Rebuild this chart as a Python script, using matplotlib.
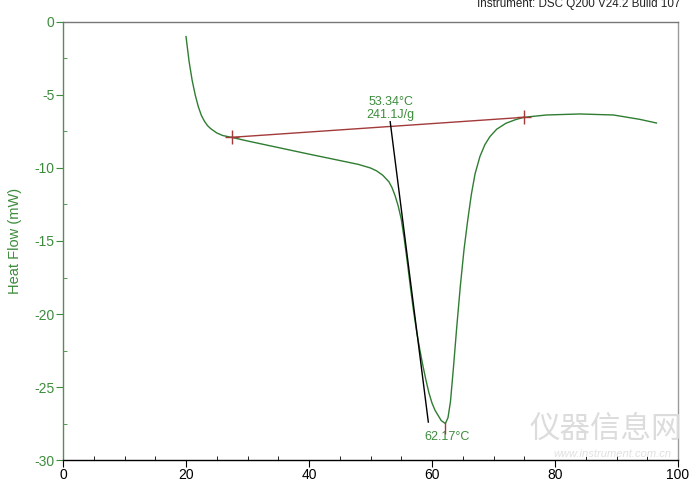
import matplotlib.pyplot as plt
from matplotlib.ticker import MultipleLocator

plt.rcParams['font.family'] = ['Liberation Sans', 'DejaVu Sans']
plt.rcParams['axes.unicode_minus'] = False

# ------------------------------
# Dados lidos do termograma DSC
# ------------------------------
temp_c = [20.0, 20.5, 21.0, 21.5, 22.0, 22.5, 23.0, 23.5, 24.0, 25.0, 26.0, 27.4,
          30.0, 35.0, 40.0, 44.0, 48.0, 50.0, 51.0, 52.0, 53.0, 53.5, 54.0, 54.5,
          55.0, 55.5, 56.0, 56.5, 57.0, 57.5, 58.0, 58.5, 59.0, 59.5, 60.0, 60.5,
          61.0, 61.5, 62.17, 62.6, 63.0, 63.5, 64.0, 64.6, 65.2, 65.8, 66.4, 67.0,
          67.8, 68.6, 69.4, 70.5, 72.0, 73.5, 74.9, 78.6, 84.0, 89.5, 93.8, 96.5]
heat_flow = [-1.0, -2.7, -4.0, -5.0, -5.8, -6.4, -6.8, -7.1, -7.3, -7.6, -7.78, -7.9,
             -8.15, -8.6, -9.05, -9.4, -9.75, -10.0, -10.2, -10.5, -10.95, -11.35, -11.9, -12.6,
             -13.5, -14.9, -16.5, -18.2, -19.8, -21.2, -22.4, -23.5, -24.5, -25.4, -26.1, -26.6,
             -26.95, -27.3, -27.5, -27.1, -26.0, -23.6, -21.0, -18.1, -15.6, -13.6, -11.8, -10.4,
             -9.2, -8.4, -7.86, -7.35, -6.94, -6.7, -6.53, -6.37, -6.3, -6.37, -6.67, -6.92]

baseline_x = [27.4, 74.9]
baseline_y = [-7.9, -6.53]

tangent_x = [53.2, 59.4]
tangent_y = [-6.83, -27.4]

peak_x = 62.17
peak_y = -27.5

onset_label = "53.34°C\n241.1J/g"
peak_label = "62.17°C"

green = "#2f7d32"
text_green = "#3c8c3c"
red = "#a33a3a"

# ------------------------------
# Figura
# ------------------------------
fig = plt.figure(figsize=(7.0, 4.82), dpi=100)
ax = fig.add_axes([0.09, 0.0456, 0.8786, 0.9088])

ax.plot(temp_c, heat_flow, color=green, lw=1.0, zorder=3)
ax.plot(baseline_x, baseline_y, color=red, lw=1.0, zorder=4)
ax.plot(baseline_x, baseline_y, ls="none", marker="+", ms=10, mew=1.0, color=red, zorder=5)
ax.plot(tangent_x, tangent_y, color="black", lw=1.0, zorder=4)
ax.plot([peak_x], [peak_y - 0.3], ls="none", marker="|", ms=8, mew=1.0, color=red, zorder=5)

ax.text(53.3, -6.75, onset_label, color=text_green, fontsize=9, ha="center",
        va="bottom", linespacing=1.05)
ax.text(62.5, -28.4, peak_label, color=text_green, fontsize=9, ha="center", va="center")

ax.set_xlim(0, 100)
ax.set_ylim(-30, 0)
ax.xaxis.set_major_locator(MultipleLocator(20))
ax.xaxis.set_minor_locator(MultipleLocator(5))
ax.yaxis.set_major_locator(MultipleLocator(5))
ax.yaxis.set_minor_locator(MultipleLocator(2.5))

ax.tick_params(axis="x", which="major", direction="out", length=5, labelsize=10,
               colors="black", pad=1)
ax.tick_params(axis="x", which="minor", direction="in", length=3, colors="black")
ax.tick_params(axis="y", which="major", direction="out", length=5, labelsize=10,
               colors=text_green, pad=1)
ax.tick_params(axis="y", which="minor", direction="in", length=3, colors=text_green)

ax.spines["left"].set_color("#5a8a5a")
ax.spines["bottom"].set_color("black")
ax.spines["top"].set_color("#777777")
ax.spines["right"].set_color("#999999")
for s in ax.spines.values():
    s.set_linewidth(1.0)

ax.set_ylabel("Heat Flow (mW)", color=text_green, fontsize=10.5)
ax.yaxis.set_label_coords(-0.066, 0.5)

# cabeçalho do instrumento (cortado no topo)
fig.text(0.972, 0.992, "Instrument: DSC Q200 V24.2 Build 107", ha="right", va="center",
         fontsize=8.4, color="#222222")

# marca d'água
fig.text(0.865, 0.11, "仪器信息网", ha="center", va="center", fontsize=22,
         color="#dcdcdc", family=["Noto Sans CJK SC", "DejaVu Sans"], zorder=0)
fig.text(0.875, 0.058, "www.instrument.com.cn", ha="center", va="center", fontsize=8,
         color="#e0e0e0", style="italic", zorder=0)

fig.savefig("out.png", dpi=100)
